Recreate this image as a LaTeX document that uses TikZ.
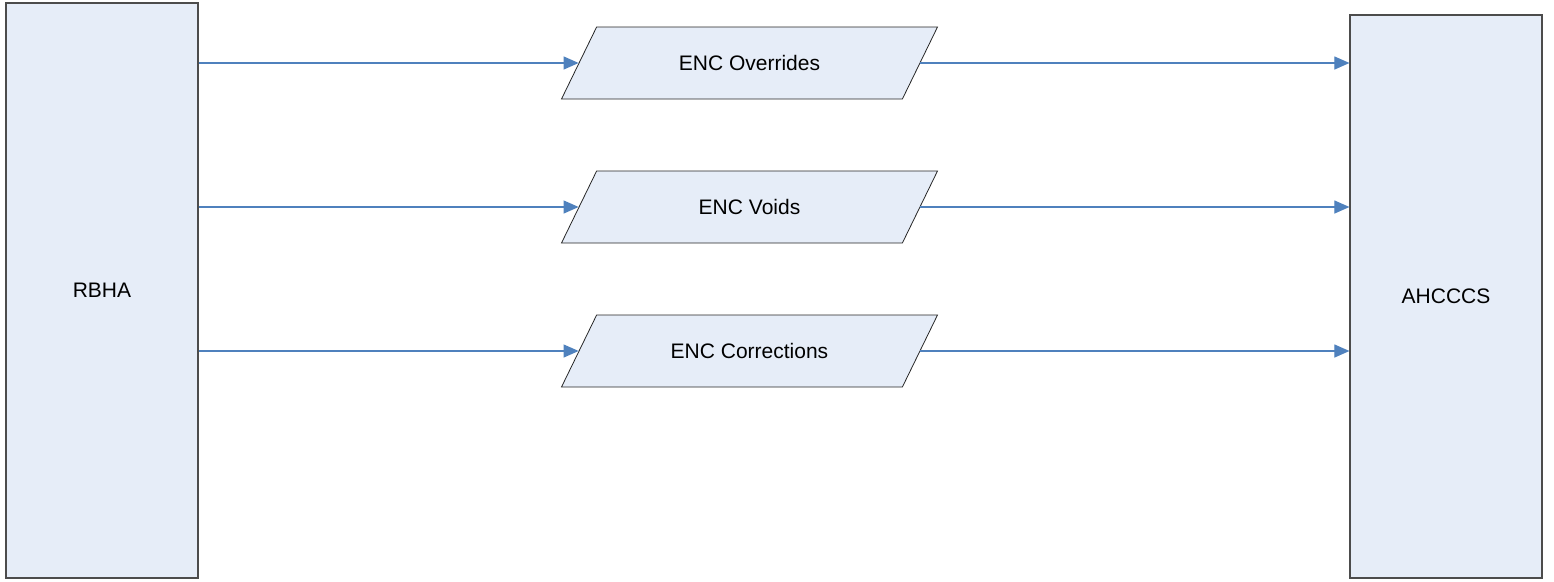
\documentclass[tikz,border=0pt]{standalone}
\usepackage{fontspec}
\setmainfont{Liberation Sans}
\usetikzlibrary{shapes.geometric,arrows.meta}
\definecolor{boxfill}{RGB}{230,237,248}
\definecolor{flowblue}{RGB}{79,129,189}
\begin{document}
\begin{tikzpicture}
[x=1pt,y=-1pt,font=\fontsize{21}{25}\selectfont,
  sysdecorate/.style={shape=rectangle,draw=black!70,line width=1.2pt,fill=boxfill,
    minimum width=192pt,inner sep=0pt},
  datadecorate/.style={shape=trapezium,trapezium left angle=64,trapezium right angle=116,
    trapezium stretches body=true,draw=black!85,line width=0.8pt,fill=boxfill,
    text height=17.5pt,text depth=2.5pt,inner xsep=0pt,inner ysep=26pt,minimum width=376pt},
  arrowdecorate/.style={-{Triangle[length=15pt,width=13pt]},draw=flowblue,line width=1.1pt}]
\useasboundingbox (0,0) rectangle (1554,581);
% systems
\node (rbha) at (102,290.5) [sysdecorate,minimum height=575pt] {RBHA};
\node (ahcccs) at (1446,296.5) [sysdecorate,minimum height=563pt] {AHCCCS};
% data flows
\node (over) at (749.5,63) [datadecorate] {ENC Overrides};
\node (voids) at (749.5,207) [datadecorate] {ENC Voids};
\node (corr) at (749.5,351) [datadecorate] {ENC Corrections};
% edges or lines
\path
(rbha.east |- over.west) edge[arrowdecorate] (over.west)
(rbha.east |- voids.west) edge[arrowdecorate] (voids.west)
(rbha.east |- corr.west) edge[arrowdecorate] (corr.west)
(over.east) edge[arrowdecorate] (ahcccs.west |- over.east)
(voids.east) edge[arrowdecorate] (ahcccs.west |- voids.east)
(corr.east) edge[arrowdecorate] (ahcccs.west |- corr.east);
\end{tikzpicture}
\end{document}
